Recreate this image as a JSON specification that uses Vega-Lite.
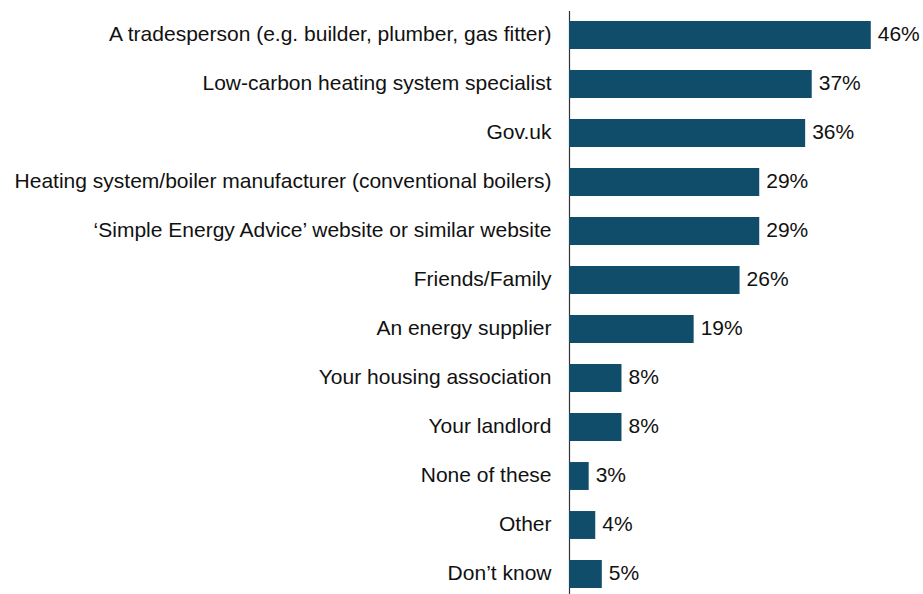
{
  "$schema": "https://vega.github.io/schema/vega-lite/v6.json",
  "autosize": "none",
  "padding": {"left": 569, "top": 10.5, "right": 26, "bottom": 0},
  "width": 328,
  "height": 588,
  "background": "white",
  "config": {"view": {"stroke": null}, "font": "Liberation Sans"},
  "data": {
    "values": [
      {"source": "A tradesperson (e.g. builder, plumber, gas fitter)", "pct": 0.46},
      {"source": "Low-carbon heating system specialist", "pct": 0.37},
      {"source": "Gov.uk", "pct": 0.36},
      {"source": "Heating system/boiler manufacturer (conventional boilers)", "pct": 0.29},
      {"source": "‘Simple Energy Advice’ website or similar website", "pct": 0.29},
      {"source": "Friends/Family", "pct": 0.26},
      {"source": "An energy supplier", "pct": 0.19},
      {"source": "Your housing association", "pct": 0.08},
      {"source": "Your landlord", "pct": 0.08},
      {"source": "None of these", "pct": 0.03},
      {"source": "Other", "pct": 0.04},
      {"source": "Don’t know", "pct": 0.05}
    ]
  },
  "encoding": {
    "y": {
      "field": "source",
      "type": "nominal",
      "sort": null,
      "scale": {"paddingInner": 0.43, "paddingOuter": 0.215},
      "axis": {
        "title": null,
        "ticks": false,
        "labelPadding": 18,
        "labelFontSize": 21,
        "labelColor": "#111111",
        "labelLimit": 700,
        "domainColor": "#333333",
        "domainWidth": 1.2
      }
    },
    "x": {
      "field": "pct",
      "type": "quantitative",
      "scale": {"domain": [0, 0.5]},
      "axis": null
    }
  },
  "layer": [
    {"mark": {"type": "bar", "color": "#0F4D6A"}},
    {
      "mark": {"type": "text", "align": "left", "baseline": "middle", "dx": 7, "fontSize": 21, "color": "#111111"},
      "encoding": {"text": {"field": "pct", "type": "quantitative", "format": ".0%"}}
    }
  ]
}
